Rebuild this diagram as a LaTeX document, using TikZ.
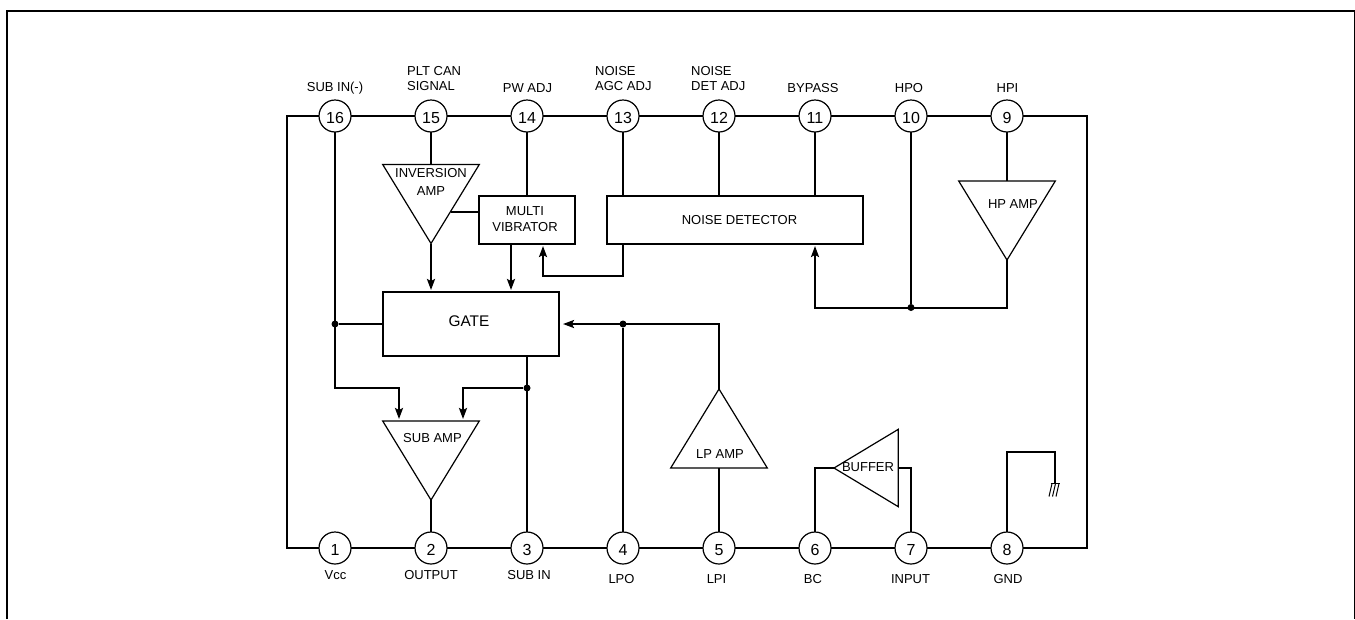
\documentclass[tikz,border=0pt]{standalone}
\usepackage{fontspec}
\setmainfont{Liberation Sans}
\usetikzlibrary{arrows.meta, positioning, shapes.geometric}

\begin{document}
\begin{tikzpicture}[x=1pt, y=-1pt, >={Stealth[length=11pt, width=8pt, inset=2pt]},
      wire/.style={line width=2pt},
      pin/.style={circle, draw, line width=1.2pt, minimum size=32pt, inner sep=0pt,
                  outer sep=0pt, text height=14pt, text depth=0pt,
                  font=\fontsize{16}{16}\selectfont},
      lbl/.style={inner sep=0pt, font=\fontsize{13}{15}\selectfont},
      blk/.style={rectangle, draw, line width=2pt, inner sep=0pt, outer sep=0pt},
      amp/.style={isosceles triangle, isosceles triangle stretches, draw,
                  line width=1.2pt, inner sep=0pt, outer sep=0pt, anchor=apex,
                  minimum width=96.6pt, minimum height=79pt},
      dot/.style={circle, fill=black, inner sep=0pt, minimum size=7pt}]
    \useasboundingbox (0,0) rectangle (1355,619);
    \draw[line width=2pt] (7,619) -- (7,11) -- (1354.5,11) -- (1354.5,619);

    \node[pin] (p16) at (335,116) {16};
    \node[pin] (p15) at (431,116) {15};
    \node[pin] (p14) at (527,116) {14};
    \node[pin] (p13) at (623,116) {13};
    \node[pin] (p12) at (719,116) {12};
    \node[pin] (p11) at (815,116) {11};
    \node[pin] (p10) at (911,116) {10};
    \node[pin] (p9) at (1007,116) {9};
    \node[pin] (p1) at (335,548) {1};
    \node[pin] (p2) at (431,548) {2};
    \node[pin] (p3) at (527,548) {3};
    \node[pin] (p4) at (623,548) {4};
    \node[pin] (p5) at (719,548) {5};
    \node[pin] (p6) at (815,548) {6};
    \node[pin] (p7) at (911,548) {7};
    \node[pin] (p8) at (1007,548) {8};

    \node[lbl] (l16) at (335,88) {SUB IN(-)};
    \node[lbl, anchor=west, align=left] (l15) at (407,79) {PLT CAN\\SIGNAL};
    \node[lbl] (l14) at (527.5,88) {PW ADJ};
    \node[lbl, anchor=west, align=left] (l13) at (595,79) {NOISE\\AGC ADJ};
    \node[lbl, anchor=west, align=left] (l12) at (691,79) {NOISE\\DET ADJ};
    \node[lbl] (l11) at (813,88) {BYPASS};
    \node[lbl] (l10) at (909,88.5) {HPO};
    \node[lbl] (l9) at (1007.5,88.5) {HPI};
    \node[lbl] (l1) at (335.5,575.5) {Vcc};
    \node[lbl] (l2) at (431,575.5) {OUTPUT};
    \node[lbl] (l3) at (529,575.5) {SUB IN};
    \node[lbl] (l4) at (621.5,579) {LPO};
    \node[lbl] (l5) at (716.5,579) {LPI};
    \node[lbl] (l6) at (813,579) {BC};
    \node[lbl] (l7) at (910.5,579) {INPUT};
    \node[lbl] (l8) at (1008,579) {GND};

    \node[blk, minimum width=96pt, minimum height=48pt] (multi) at (527,220) {};
    \node[blk, minimum width=256pt, minimum height=48pt] (noise) at (735,220) {};
    \node[blk, minimum width=176pt, minimum height=64pt] (gate) at (471,324) {};

    \node[amp, shape border rotate=-90] (inv) at (431,243.5) {};
    \node[amp, shape border rotate=-90] (hp) at (1007,260) {};
    \node[amp, shape border rotate=-90] (sub) at (431,500) {};
    \node[amp, shape border rotate=90] (lp) at (719,389) {};
    \node[amp, shape border rotate=180, minimum width=77.4pt, minimum height=64.3pt] (buf) at (834,468) {};

    \node[lbl, align=center] (multitxt) at (525,219) {MULTI\\[0.5pt]VIBRATOR};
    \node[lbl] (noisetxt) at (739.5,220.5) {NOISE DETECTOR};
    \node[lbl, font=\fontsize{15.4}{16}\selectfont] (gatetxt) at (469,321) {GATE};
    \node[lbl, align=center] (invtxt) at (431,182) {INVERSION\\[2.5pt]AMP};
    \node[lbl] (hptxt) at (1013,204) {HP AMP};
    \node[lbl] (subtxt) at (432.5,438) {SUB AMP};
    \node[lbl] (lptxt) at (720,454) {LP AMP};
    \node[lbl] (buftxt) at (868,467.5) {BUFFER};

    \node[dot] (jgate) at (335,324) {};
    \node[dot] (jlp) at (623,324) {};
    \node[dot] (jsub) at (527,388) {};
    \node[dot] (jhp) at (911,307.5) {};

    \coordinate (tl) at (287,116);
    \coordinate (tr) at (1087,116);
    \coordinate (bl) at (287,548);
    \coordinate (br) at (1087,548);
    \coordinate (invtap) at (450.5,212);
    \coordinate (multiout) at (511,244);
    \coordinate (bendm) at (543,276);
    \coordinate (bendn) at (815,307.5);
    \coordinate (bendl) at (399,388);
    \coordinate (bendr) at (463,388);
    \coordinate (subl) at (399,419);
    \coordinate (subr) at (463,419);
    \coordinate (gndtop) at (1055,452);
    \coordinate (gndend) at (1055,483.5);

    \draw[wire] (p16) -- (p15);
    \draw[wire] (p15) -- (p14);
    \draw[wire] (p14) -- (p13);
    \draw[wire] (p13) -- (p12);
    \draw[wire] (p12) -- (p11);
    \draw[wire] (p11) -- (p10);
    \draw[wire] (p10) -- (p9);
    \draw[wire] (p1) -- (p2);
    \draw[wire] (p2) -- (p3);
    \draw[wire] (p3) -- (p4);
    \draw[wire] (p4) -- (p5);
    \draw[wire] (p5) -- (p6);
    \draw[wire] (p6) -- (p7);
    \draw[wire] (p7) -- (p8);
    \draw[wire, line join=miter] (p16) -- (tl) -- (bl) -- (p1);
    \draw[wire, line join=miter] (p9) -- (tr) -- (br) -- (p8);

    \draw[wire] (p15) -- (inv.lower side);
    \draw[wire] (p14) -- (multi.north);
    \draw[wire] (p13) -- (p13 |- noise.north);
    \draw[wire] (p12) -- (p12 |- noise.north);
    \draw[wire] (p11) -- (p11 |- noise.north);
    \draw[wire] (p9) -- (hp.lower side);
    \draw[wire] (p10) -- (jhp);
    \draw[wire] (invtap) -- (invtap -| multi.west);
    \draw[wire, ->, shorten >=2pt] (inv.apex) -- (inv.apex |- gate.north);
    \draw[wire, ->, shorten >=2pt] (multiout) -- (multiout |- gate.north);
    \draw[wire, ->, shorten >=2pt] (p13 |- noise.south) |- (bendm) -- (bendm |- multi.south);
    \draw[wire, ->, shorten >=2pt] (hp.apex) |- (bendn) -- (bendn |- noise.south);

    \draw[wire] (jgate) -- (jgate -| gate.west);
    \draw[wire, ->] (p16) |- (bendl) -- (subl);
    \draw[wire, ->] (jsub) -- (bendr) -- (subr);
    \draw[wire] (p3 |- gate.south) -- (p3);
    \draw[wire] (p2) -- (sub.apex);
    \draw[wire] (p4) -- (jlp);
    \draw[wire, ->, shorten >=4pt] (lp.apex) |- (gate.east);
    \draw[wire] (p5) -- (lp.lower side);
    \draw[wire] (p6) |- (buf.apex);
    \draw[wire] (p7) |- (buf.lower side);
    \draw[wire] (p8) |- (gndtop) -- (gndend);
    \draw[line width=1.2pt] (1050.5,483.5) -- (1059.5,483.5);
    \draw[line width=1pt] (1052,483.5) -- ++(-3,13) (1055.5,483.5) -- ++(-3,13) (1059,483.5) -- ++(-3,13);
  \end{tikzpicture}
\end{document}
